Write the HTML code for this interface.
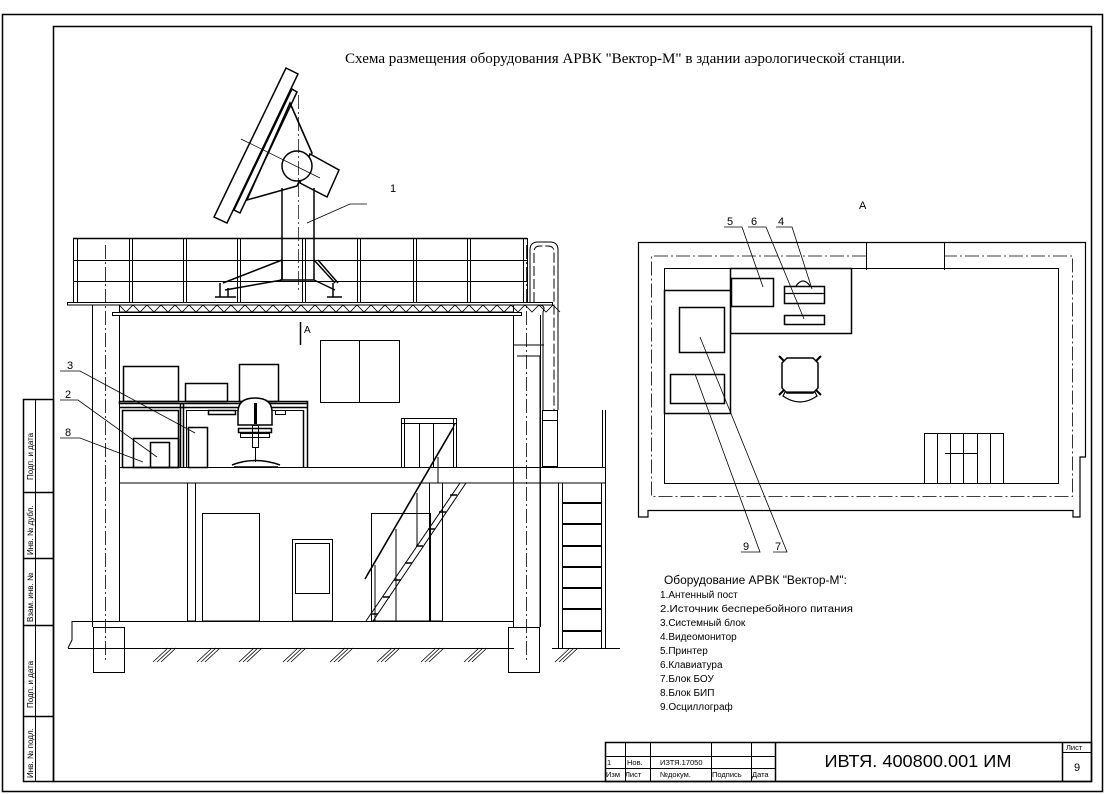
<!DOCTYPE html>
<html><head><meta charset="utf-8"><style>
html,body{margin:0;padding:0;background:#fff;}
svg{display:block;}
text{font-family:"Liberation Sans",sans-serif;fill:#000;}
</style></head><body>
<svg width="1105" height="794" viewBox="0 0 1105 794" xmlns="http://www.w3.org/2000/svg">
<g fill="none" stroke="#000" stroke-width="1">
<rect x="2.5" y="14.5" width="1100" height="777" stroke-width="1.5"/>
<rect x="53.5" y="26.5" width="1038" height="755" stroke-width="1.5"/>
<rect x="23.5" y="399.5" width="30" height="382" stroke-width="1.5"/>
<line x1="35.5" y1="399" x2="35.5" y2="781"/>
<line x1="23" y1="492.5" x2="53" y2="492.5" stroke-width="1.5"/>
<line x1="23" y1="558.5" x2="53" y2="558.5" stroke-width="1.5"/>
<line x1="23" y1="625.5" x2="53" y2="625.5" stroke-width="1.5"/>
<line x1="23" y1="716.5" x2="53" y2="716.5" stroke-width="1.5"/>
<rect x="605.5" y="742.5" width="486" height="39" stroke-width="1.5"/>
<line x1="605" y1="756.5" x2="775" y2="756.5"/>
<line x1="605" y1="768.5" x2="775" y2="768.5"/>
<line x1="625.5" y1="742" x2="625.5" y2="781"/>
<line x1="650.5" y1="742" x2="650.5" y2="781"/>
<line x1="711.5" y1="742" x2="711.5" y2="781"/>
<line x1="751.5" y1="742" x2="751.5" y2="781"/>
<line x1="775.5" y1="742" x2="775.5" y2="781" stroke-width="1.5"/>
<line x1="1062.5" y1="742" x2="1062.5" y2="781" stroke-width="1.5"/>
<line x1="1062" y1="752.5" x2="1092" y2="752.5"/>

<line x1="73" y1="238.5" x2="527" y2="238.5" stroke-width="1.5"/>
<line x1="73" y1="260.5" x2="527" y2="260.5"/>
<line x1="73" y1="281.5" x2="527" y2="281.5"/>
<g>
<line x1="73.5" y1="238" x2="73.5" y2="302"/><line x1="77.5" y1="238" x2="77.5" y2="302"/>
<line x1="129.5" y1="238" x2="129.5" y2="302"/><line x1="132.5" y1="238" x2="132.5" y2="302"/>
<line x1="183.5" y1="238" x2="183.5" y2="302"/><line x1="186.5" y1="238" x2="186.5" y2="302"/>
<line x1="237.5" y1="238" x2="237.5" y2="302"/><line x1="240.5" y1="238" x2="240.5" y2="302"/>
<line x1="302.5" y1="238" x2="302.5" y2="302"/><line x1="305.5" y1="238" x2="305.5" y2="302"/>
<line x1="357.5" y1="238" x2="357.5" y2="302"/><line x1="360.5" y1="238" x2="360.5" y2="302"/>
<line x1="413.5" y1="238" x2="413.5" y2="302"/><line x1="416.5" y1="238" x2="416.5" y2="302"/>
<line x1="467.5" y1="238" x2="467.5" y2="302"/><line x1="470.5" y1="238" x2="470.5" y2="302"/>
<line x1="523.5" y1="238" x2="523.5" y2="302"/><line x1="527.5" y1="238" x2="527.5" y2="302"/>
</g>
<path d="M530 302 V250 Q530 242 538 242 H550 Q558 242 558 250 V410"/>
<path d="M534 302 V252 Q534 246 540 246 H548 Q554 246 554 252 V410" stroke-dasharray="10 3"/>
<rect x="67.5" y="302.5" width="485" height="2.5" fill="#fff"/>
<rect x="119.5" y="305" width="394" height="7" fill="none"/>
<path d="M119 305 l7 7 l7 -7 l7 7 l7 -7 l7 7 l7 -7 l7 7 l7 -7 l7 7 l7 -7 l7 7 l7 -7 l7 7 l7 -7 l7 7 l7 -7 l7 7 l7 -7 l7 7 l7 -7 l7 7 l7 -7 l7 7 l7 -7 l7 7 l7 -7 l7 7 l7 -7 l7 7 l7 -7 l7 7 l7 -7 l7 7 l7 -7 l7 7 l7 -7 l7 7 l7 -7 l7 7 l7 -7 l7 7 l7 -7 l7 7 l7 -7 l7 7 l7 -7 l7 7 l7 -7 l7 7 l7 -7 l7 7 l7 -7 l7 7 l7 -7 l7 7 l7 -7 l7 7 l7 -7 l7 7 l7 -7 l7 7 l7 -7 l7 7" stroke-width="0.8"/>
<rect x="112.5" y="312.5" width="409" height="3"/>
<path d="M540 305 Q546 306 543 312 V410"/>
<line x1="92.5" y1="305" x2="92.5" y2="627"/>
<line x1="119.5" y1="315" x2="119.5" y2="621"/>
<line x1="105.5" y1="245" x2="105.5" y2="660" stroke-dasharray="14 3 2 3" stroke-width="0.8"/>
<line x1="513.5" y1="315" x2="513.5" y2="627"/>
<line x1="540.5" y1="315" x2="540.5" y2="627"/>
<line x1="526.5" y1="245" x2="526.5" y2="660" stroke-dasharray="14 3 2 3" stroke-width="0.8"/>
<path d="M513 345 H544 M517 356 H540 V627"/>
<rect x="542.5" y="410.5" width="15" height="56"/>
<line x1="542" y1="420.5" x2="558" y2="420.5"/>
<line x1="300.5" y1="322" x2="300.5" y2="345" stroke-width="1.5"/>
<rect x="320.5" y="340.5" width="79" height="62"/>
<line x1="359.5" y1="340" x2="359.5" y2="402"/>
<rect x="123.5" y="366.5" width="55" height="35" stroke-width="1.5"/>
<rect x="185.5" y="383.5" width="42" height="18" stroke-width="1.5"/>
<rect x="239.5" y="364.5" width="39" height="37" stroke-width="1.5"/>
<rect x="119.5" y="401.5" width="188" height="2" stroke-width="1.5"/>
<line x1="119" y1="407.5" x2="307" y2="407.5" stroke-width="1.5"/>
<rect x="122.5" y="410.5" width="56" height="57" stroke-width="1.5"/>
<line x1="180.5" y1="403" x2="180.5" y2="467" stroke-width="1.5"/>
<line x1="183.5" y1="403" x2="183.5" y2="467" stroke-width="1.5"/>
<line x1="186.5" y1="410" x2="186.5" y2="467"/>
<line x1="186" y1="410.5" x2="304" y2="410.5"/>
<line x1="303.5" y1="410" x2="303.5" y2="467" stroke-width="1.5"/>
<line x1="307.5" y1="403" x2="307.5" y2="467" stroke-width="1.5"/>
<rect x="208.5" y="410.5" width="27" height="4" stroke-width="1.5"/>
<rect x="275.5" y="410.5" width="10" height="4"/>
<rect x="133.5" y="438.5" width="45" height="29" stroke-width="1.5"/>
<rect x="150.5" y="442.5" width="19" height="25" stroke-width="1.5"/>
<rect x="188.5" y="427.5" width="19" height="40" stroke-width="1.5"/>
<path d="M238 425 V412 Q238 398 255 398 Q272 398 272 412 V425 Z" stroke-width="1.5" fill="#fff"/>
<line x1="255.5" y1="403" x2="255.5" y2="424" stroke-width="3"/>
<rect x="238.5" y="428.5" width="33" height="4" stroke-width="1.5"/>
<rect x="240.5" y="433.5" width="29" height="4"/>
<rect x="252.5" y="425.5" width="6" height="22"/>
<line x1="255.5" y1="447" x2="255.5" y2="462"/>
<path d="M232 465 Q255 456 280 465 M234 467 H278" stroke-width="1.5"/>
<rect x="119.5" y="467.5" width="486" height="15.5"/>
<line x1="508" y1="467.5" x2="540" y2="467.5"/>
<rect x="401.5" y="418.5" width="55" height="49"/>
<line x1="401" y1="423.5" x2="456" y2="423.5"/>
<line x1="404.5" y1="418" x2="404.5" y2="467"/><line x1="453.5" y1="418" x2="453.5" y2="467"/>
<line x1="419.5" y1="423" x2="419.5" y2="467"/><line x1="433.5" y1="423" x2="433.5" y2="467"/>
<line x1="602.5" y1="410" x2="602.5" y2="467"/><line x1="605.5" y1="410" x2="605.5" y2="467"/>
<rect x="187.5" y="483" width="8" height="138"/>
<rect x="202.5" y="513.5" width="57" height="107.5"/>
<rect x="292.5" y="539.5" width="40" height="81.5"/>
<rect x="295.5" y="543.5" width="34" height="50"/>
<rect x="371.5" y="513.5" width="59" height="107.5"/>
<rect x="429.5" y="483" width="13" height="138"/>
<line x1="366" y1="621" x2="460" y2="483"/>
<line x1="373" y1="621" x2="466" y2="483"/>
<line x1="365" y1="579" x2="453" y2="428" stroke-width="1.5"/>
<line x1="367" y1="575" x2="455" y2="424"/>
<line x1="375" y1="565" x2="375" y2="621"/>
<line x1="396" y1="529" x2="396" y2="621"/>
<line x1="417" y1="493" x2="417" y2="545"/>
<line x1="438" y1="457" x2="438" y2="483"/>
<g stroke-width="1.5"><line x1="371" y1="614" x2="378" y2="614"/><line x1="383" y1="597" x2="390" y2="597"/><line x1="394" y1="580" x2="401" y2="580"/><line x1="405" y1="563" x2="412" y2="563"/><line x1="416" y1="546" x2="423" y2="546"/><line x1="428" y1="529" x2="435" y2="529"/><line x1="439" y1="512" x2="446" y2="512"/><line x1="450" y1="495" x2="457" y2="495"/></g>
<line x1="558.5" y1="483" x2="558.5" y2="648"/><line x1="562.5" y1="483" x2="562.5" y2="648"/>
<line x1="601.5" y1="483" x2="601.5" y2="648"/><line x1="605.5" y1="410" x2="605.5" y2="648"/>
<g stroke-width="2"><line x1="562" y1="503" x2="601" y2="503"/><line x1="562" y1="524" x2="601" y2="524"/><line x1="562" y1="546" x2="601" y2="546"/><line x1="562" y1="567" x2="601" y2="567"/><line x1="562" y1="588" x2="601" y2="588"/><line x1="562" y1="609" x2="601" y2="609"/><line x1="562" y1="631" x2="601" y2="631"/></g>
<line x1="72" y1="621.5" x2="514" y2="621.5"/>
<path d="M72 621 V640 L68 648"/>
<line x1="68" y1="648.5" x2="514" y2="648.5"/>
<line x1="552" y1="648.5" x2="620" y2="648.5"/>
<rect x="93.5" y="627.5" width="31" height="45"/>
<rect x="508.5" y="627.5" width="31" height="45"/>
<g stroke-width="0.8">
<path d="M153 662 l15 -14 M157 662 l15 -14 M161 662 l15 -14"/>
<path d="M197 662 l15 -14 M201 662 l15 -14 M205 662 l15 -14"/>
<path d="M239 662 l15 -14 M243 662 l15 -14 M247 662 l15 -14"/>
<path d="M283 662 l15 -14 M287 662 l15 -14 M291 662 l15 -14"/>
<path d="M330 662 l15 -14 M334 662 l15 -14 M338 662 l15 -14"/>
<path d="M377 662 l15 -14 M381 662 l15 -14 M385 662 l15 -14"/>
<path d="M421 662 l15 -14 M425 662 l15 -14 M429 662 l15 -14"/>
<path d="M464 662 l15 -14 M468 662 l15 -14 M472 662 l15 -14"/>
<path d="M555 662 l15 -14 M559 662 l15 -14 M563 662 l15 -14"/>
</g>
<g stroke-width="1.5">
<polygon points="286,68 298,74 227,223 214,217" fill="#fff"/>
<polygon points="292,89 297,92 240,213 234,210" fill="#fff"/>
<path d="M290 103 L247 200 L297 186 L312 153 Z"/>
<path d="M290 103 L312 153"/>
<polygon points="310,154 339,170 327,197 300,183" fill="#fff"/>
<circle cx="297" cy="166" r="15" fill="#fff"/>
<path d="M282 188 V280 M314 188 V280"/>
<path d="M282 260 L223 283 M282 260 V280 L225 290 M314 260 L335 283 M318 260 L338 283 M314 280 L335 290 M280 280 H314"/>
<path d="M220 283 V297 M215 297 H236 M228 288 V297 M333 283 V297 M327 297 H342"/>
</g>
<line x1="298.5" y1="95" x2="298.5" y2="292" stroke-dasharray="14 3 2 3" stroke-width="0.7"/>
<line x1="241" y1="139" x2="320" y2="178" stroke-width="0.7"/>
<g stroke-width="0.8">
<path d="M307 223 L350 204 H367"/>
<path d="M60 371 H80 L195 433"/>
<path d="M60 400 H78 L157 457"/>
<path d="M60 438 H80 L143 462"/>
</g>

<path d="M638.5 510 V242.5 H1085.5 V457 H1080 V517 H1073 V510.5 H648 V517 H638.5 Z" stroke-width="1.2"/>
<line x1="866.5" y1="242" x2="866.5" y2="270"/>
<line x1="944.5" y1="242" x2="944.5" y2="270"/>
<path d="M866 256 H651.5 V496.5 H1072.5 V256 H944" stroke-dasharray="14 3 2 3" stroke-width="0.8"/>
<rect x="664.5" y="268.5" width="394" height="215"/>
<rect x="730.5" y="268.5" width="121" height="65" stroke-width="1.5" fill="#fff"/>
<rect x="731.5" y="278.5" width="42" height="28" stroke-width="1.5"/>
<rect x="784.5" y="286.5" width="40" height="17" stroke-width="1.5"/>
<line x1="784" y1="293.5" x2="824" y2="293.5" stroke-width="1.2"/>
<path d="M796 286 Q803 276 810 286" stroke-width="1.2"/>
<rect x="784.5" y="315.5" width="40" height="9" stroke-width="1.5"/>
<rect x="664.5" y="290.5" width="66" height="123" stroke-width="1.5" fill="#fff"/>
<rect x="679.5" y="307.5" width="45" height="45" stroke-width="1.5"/>
<rect x="670.5" y="374.5" width="54" height="29" stroke-width="1.5"/>
<path d="M782 363 L787 358 H813 L818 363 V388 L813 393 H787 L782 388 Z" stroke-width="1.5"/>
<path d="M783 396 Q800 408 817 396 L815 392 H785 Z" stroke-width="1.2"/>
<path d="M784 361 l-5 -5 M816 361 l5 -5 M784 390 l-5 5 M816 390 l5 5" stroke-width="2"/>
<rect x="924.5" y="433.5" width="79" height="50"/>
<path d="M937.5 433 V483 M950.5 433 V483 M963.5 433 V483 M977.5 433 V483 M990.5 433 V483"/>
<line x1="945" y1="453.5" x2="977" y2="453.5"/>
<g stroke-width="0.8">
<path d="M724 227 H742 L763 287"/>
<path d="M748 227 H766 L804 319"/>
<path d="M776 227 H792 L812 289"/>
<path d="M741 552 H760 L695 374"/>
<path d="M773 552 H787 L700 337"/>
</g>
</g>

<text x="625" y="63" font-size="14.5" text-anchor="middle" textLength="560" lengthAdjust="spacingAndGlyphs" style="font-family:'Liberation Serif',serif">Схема размещения оборудования АРВК "Вектор-М" в здании аэрологической станции.</text>
<g font-size="11">
<text x="390" y="192">1</text>
<text x="67" y="369">3</text>
<text x="65" y="398">2</text>
<text x="65" y="436">8</text>
<text x="304" y="333" font-size="10">А</text>
<text x="859" y="209">А</text>
<text x="727" y="225">5</text>
<text x="751" y="225">6</text>
<text x="778" y="225">4</text>
<text x="743" y="550">9</text>
<text x="775" y="550">7</text>
</g>
<g font-size="10">
<text x="664" y="584" font-size="11.5" textLength="183" lengthAdjust="spacingAndGlyphs">Оборудование АРВК "Вектор-М":</text>
<text x="660" y="598">1.Антенный пост</text>
<text x="660" y="612" textLength="193" lengthAdjust="spacingAndGlyphs">2.Источник бесперебойного питания</text>
<text x="660" y="626">3.Системный блок</text>
<text x="660" y="640">4.Видеомонитор</text>
<text x="660" y="654">5.Принтер</text>
<text x="660" y="668">6.Клавиатура</text>
<text x="660" y="682">7.Блок БОУ</text>
<text x="660" y="696">8.Блок БИП</text>
<text x="660" y="710">9.Осциллограф</text>
</g>
<g font-size="7.5">
<text x="607" y="765">1</text>
<text x="627" y="765">Нов.</text>
<text x="660" y="765">ИЗТЯ.17050</text>
<text x="606" y="777">Изм</text>
<text x="625" y="777">Лист</text>
<text x="660" y="777">№докум.</text>
<text x="712" y="777">Подпись</text>
<text x="752" y="777">Дата</text>
<text x="1066" y="750">Лист</text>
</g>
<text x="918" y="767" font-size="17.5" text-anchor="middle" textLength="187" lengthAdjust="spacingAndGlyphs">ИВТЯ. 400800.001 ИМ</text>
<text x="1077" y="771" font-size="11" text-anchor="middle">9</text>
<g font-size="8">
<text transform="translate(33,480) rotate(-90)">Подп. и дата</text>
<text transform="translate(33,555) rotate(-90)">Инв. № дубл.</text>
<text transform="translate(33,622) rotate(-90)">Взам. инв. №</text>
<text transform="translate(33,708) rotate(-90)">Подп. и дата</text>
<text transform="translate(33,778) rotate(-90)">Инв. № подл.</text>
</g>
</svg>
</body></html>
